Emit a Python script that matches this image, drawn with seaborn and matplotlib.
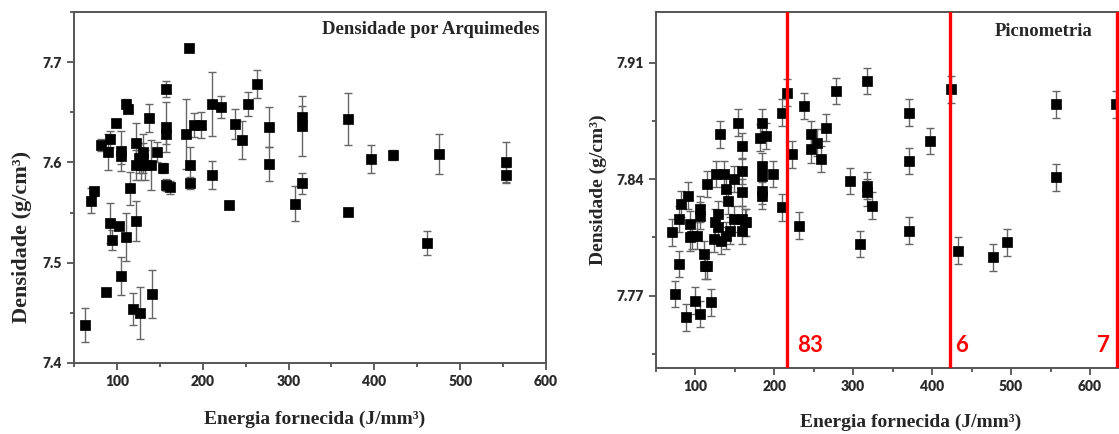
import numpy as np
import pandas as pd
import matplotlib
matplotlib.use("Agg")
import matplotlib.pyplot as plt
import seaborn as sns
from matplotlib.ticker import MultipleLocator

# -- data --

# Arquimedes
arq_energia = [62.8, 69.8, 73.0, 81.4, 87.6, 89.9, 92.2, 92.2, 94.6, 98.5,
               102.3, 105.0, 105.0, 105.0, 110.5, 112.8, 110.5, 115.1, 118.6, 122.5,
               122.5, 122.5, 126.4, 126.0, 128.0, 130.0, 130.0, 133.0, 140.0, 138.0,
               140.7, 147.3, 153.5, 157.8, 157.8, 157.8, 157.8, 161.6, 180.0, 184.5,
               185.0, 185.0, 190.3, 197.7, 210.5, 210.5, 221.7, 230.2, 237.2, 245.7,
               253.1, 262.8, 276.7, 276.7, 307.8, 316.3, 316.3, 316.3, 369.4, 369.4,
               395.7, 422.0, 474.8, 461.6, 553.8, 553.8]
arq_dens = [7.438, 7.562, 7.571, 7.617, 7.471, 7.610, 7.623, 7.540, 7.523, 7.639,
            7.537, 7.611, 7.606, 7.487, 7.658, 7.653, 7.526, 7.574, 7.454, 7.619,
            7.597, 7.542, 7.450, 7.604, 7.597, 7.610, 7.604, 7.597, 7.597, 7.644,
            7.469, 7.610, 7.594, 7.673, 7.635, 7.628, 7.577, 7.575, 7.628, 7.714,
            7.597, 7.579, 7.637, 7.637, 7.658, 7.587, 7.655, 7.558, 7.638, 7.622,
            7.658, 7.678, 7.635, 7.598, 7.559, 7.645, 7.636, 7.579, 7.643, 7.551,
            7.603, 7.607, 7.608, 7.520, 7.600, 7.587]
arq_err = [0.017, 0.012, 0.004, 0.006, 0.0, 0.018, 0.008, 0.020, 0.010, 0.004,
           0.0, 0.020, 0.008, 0.019, 0.005, 0.004, 0.024, 0.016, 0.016, 0.020,
           0.015, 0.020, 0.026, 0.015, 0.015, 0.018, 0.015, 0.015, 0.025, 0.014,
           0.024, 0.010, 0.005, 0.008, 0.025, 0.010, 0.006, 0.006, 0.035, 0.0,
           0.018, 0.006, 0.012, 0.013, 0.032, 0.014, 0.011, 0.004, 0.015, 0.019,
           0.012, 0.014, 0.020, 0.017, 0.017, 0.011, 0.030, 0.010, 0.026, 0.004,
           0.014, 0.005, 0.020, 0.012, 0.020, 0.008]

# Picnometria
pic_energia = [70.5, 73.8, 79.3, 79.3, 82.3, 87.7, 90.7, 92.8, 92.8, 95.8,
               99.1, 102.2, 105.4, 105.4, 105.4, 110.5, 111.8, 114.8, 115.2, 119.4,
               123.2, 124.5, 126.2, 128.8, 128.8, 131.7, 132.6, 136.8, 139.3, 140.9,
               139.3, 143.5, 148.5, 148.5, 154.5, 158.7, 158.7, 158.7, 158.7, 158.7,
               162.5, 164.6, 181.5, 184.9, 184.9, 184.9, 184.9, 184.9, 190.0, 198.5,
               210.3, 210.3, 215.7, 222.6, 231.8, 238.1, 246.6, 246.6, 254.2, 259.3,
               265.1, 278.3, 296.5, 308.7, 318.0, 318.0, 318.0, 324.3, 370.8, 370.8,
               370.8, 397.5, 424.1, 432.4, 476.8, 495.0, 556.7, 556.7, 632.7]
pic_dens = [7.808, 7.771, 7.789, 7.816, 7.825, 7.757, 7.830, 7.813, 7.805, 7.806,
            7.767, 7.806, 7.759, 7.822, 7.818, 7.795, 7.788, 7.788, 7.837, 7.766,
            7.804, 7.814, 7.843, 7.819, 7.811, 7.867, 7.803, 7.843, 7.834, 7.827,
            7.806, 7.809, 7.840, 7.816, 7.874, 7.860, 7.845, 7.832, 7.816, 7.809,
            7.814, 7.814, 7.865, 7.874, 7.848, 7.842, 7.833, 7.830, 7.866, 7.843,
            7.880, 7.823, 7.892, 7.855, 7.812, 7.884, 7.867, 7.858, 7.862, 7.852,
            7.871, 7.893, 7.839, 7.801, 7.899, 7.836, 7.832, 7.824, 7.880, 7.851,
            7.809, 7.863, 7.894, 7.797, 7.793, 7.802, 7.885, 7.841, 7.885]
pic_err = [0.008] * len(pic_dens)

cortes = [216.6, 423.2, 634.0]
cortes_txt = ["83", "6", "7"]
cortes_txt_x = [229.0, 429.5, 609.5]

arq = pd.DataFrame({"energia": arq_energia, "dens": arq_dens, "err": arq_err})
pic = pd.DataFrame({"energia": pic_energia, "dens": pic_dens, "err": pic_err})

sns.set_style("white")
plt.rcParams["font.family"] = ["Liberation Serif", "DejaVu Sans"]

fig = plt.figure(figsize=(11.19, 4.34), dpi=100)
ax1 = fig.add_axes([0.0661, 0.1636, 0.4218, 0.8088])
ax2 = fig.add_axes([0.5862, 0.1521, 0.4138, 0.8203])

lab_font = {"family": "Liberation Serif", "weight": "bold", "size": 14}


def panel(ax, df, ylab_size):
    ax.errorbar(df["energia"], df["dens"], yerr=df["err"], fmt="none",
                ecolor="#666666", elinewidth=1.0, capsize=3, capthick=1.0, zorder=2)
    sns.scatterplot(data=df, x="energia", y="dens", marker="s", s=55,
                    color="black", edgecolor="black", linewidth=0.5, ax=ax, zorder=3)
    for sp in ax.spines.values():
        sp.set_color("#555555")
        sp.set_linewidth(1.4)
    ax.tick_params(which="both", direction="out", color="#444444", width=1.2,
                   left=True, bottom=True)
    ax.tick_params(which="major", length=5)
    ax.tick_params(which="minor", length=3)
    for lab in ax.get_xticklabels() + ax.get_yticklabels():
        lab.set_fontfamily("Lato")
        lab.set_fontweight("heavy")
        lab.set_fontsize(10)
        lab.set_color("#2a2a2a")
    ax.set_xlabel("Energia fornecida (J/mm³)", **lab_font)
    ax.set_ylabel("Densidade (g/cm³)", family="Liberation Serif",
                  weight="bold", size=ylab_size)


# left: Arquimedes
ax1.set_xlim(50, 600)
ax1.set_ylim(7.4, 7.75)
ax1.set_xticks([100, 200, 300, 400, 500, 600])
ax1.xaxis.set_minor_locator(MultipleLocator(50))
ax1.set_yticks([7.4, 7.5, 7.6, 7.7])
ax1.set_yticklabels(["7.4", "7.5", "7.6", "7.7"])
ax1.yaxis.set_minor_locator(MultipleLocator(0.05))
panel(ax1, arq, 16)
ax1.xaxis.set_label_coords(0.51, -0.135)
ax1.yaxis.set_label_coords(-0.089, 0.36)
ax1.text(0.987, 0.95, "Densidade por Arquimedes", transform=ax1.transAxes,
         ha="right", va="center", fontsize=13.5, fontweight="bold",
         family="Liberation Serif")

# right: Picnometria
ax2.set_xlim(50, 636.8)
ax2.set_ylim(7.7266, 7.9404)
ax2.set_xticks([100, 200, 300, 400, 500, 600])
ax2.xaxis.set_minor_locator(MultipleLocator(50))
ax2.set_yticks([7.77, 7.84, 7.91])
ax2.set_yticklabels(["7.77", "7.84", "7.91"])
ax2.set_yticks([7.735, 7.805, 7.875], minor=True)
panel(ax2, pic, 14)
ax2.spines["right"].set_visible(False)
ax2.xaxis.set_label_coords(0.549, -0.128)
ax2.yaxis.set_label_coords(-0.106, 0.5)
ax2.text(0.942, 0.944, "Picnometria", transform=ax2.transAxes,
         ha="right", va="center", fontsize=13.5, fontweight="bold",
         family="Liberation Serif")

for xc, t, xt in zip(cortes, cortes_txt, cortes_txt_x):
    ax2.axvline(xc, color="red", linewidth=2.4, zorder=4)
    ax2.text(xt, 7.7404, t, color="red", fontsize=16, fontweight="bold",
             family="Lato", ha="left", va="center", zorder=5)

fig.savefig("out.png", dpi=100)
